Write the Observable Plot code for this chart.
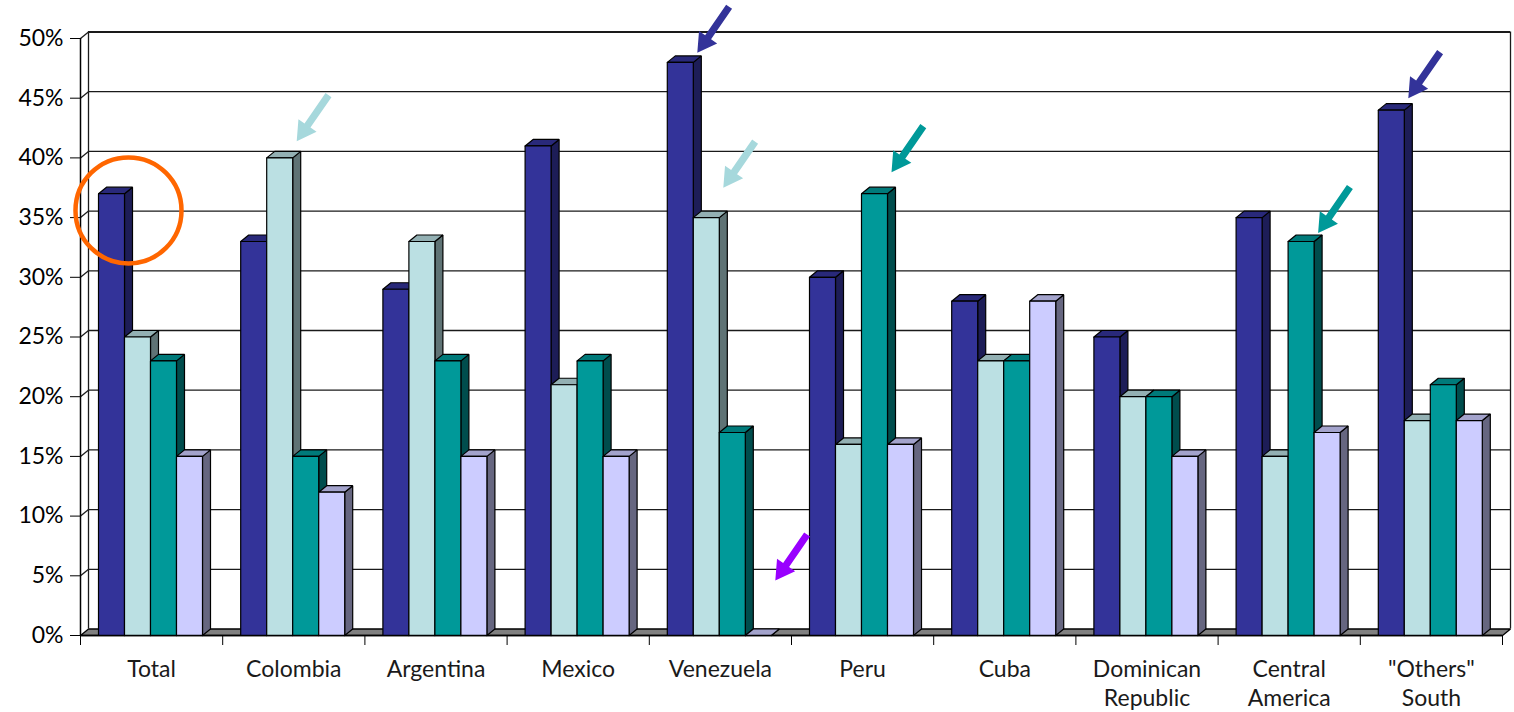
<!DOCTYPE html>
<html>
<head>
<meta charset="utf-8">
<script src="https://cdn.jsdelivr.net/npm/d3@7"></script>
<script src="https://cdn.jsdelivr.net/npm/@observablehq/plot@0.6"></script>
<style>
  html, body { margin: 0; padding: 0; background: #fff; }
  #chart svg { display: block; }
</style>
</head>
<body>
<div id="chart"></div>
<script>
// Categories along the x axis (line breaks split long labels)
const categories = [
  "Total", "Colombia", "Argentina", "Mexico", "Venezuela", "Peru", "Cuba",
  "Dominican\nRepublic", "Central\nAmerica", "\"Others\"\nSouth"
];

// Shares (%) for the four series, one value per category
const series1 = [37, 33, 29, 41, 48, 30, 28, 25, 35, 44];
const series2 = [25, 40, 33, 21, 35, 16, 23, 20, 15, 18];
const series3 = [23, 15, 23, 23, 17, 37, 23, 20, 33, 21];
const series4 = [15, 12, 15, 15, 0, 16, 28, 15, 17, 18];

// Y axis ticks (%)
const yTicks = [0, 5, 10, 15, 20, 25, 30, 35, 40, 45, 50];

// Call-out arrows: which bar they point at, and the height (%) of the arrow tip
const arrowNotes = [
  {category: 1, series: 1, tip: 41.4},
  {category: 4, series: 0, tip: 48.8},
  {category: 4, series: 1, tip: 37.5},
  {category: 4, series: 3, tip: 4.6},
  {category: 5, series: 2, tip: 38.8},
  {category: 8, series: 2, tip: 33.7},
  {category: 9, series: 0, tip: 45.0}
];
// Circled bar and the height (%) of the circle's centre
const circleNote = {category: 0, series: 0, center: 35.6};

// ---- styling ----
const allSeries = [series1, series2, series3, series4];
const faceColors = ["#333399", "#BBE0E3", "#009999", "#CCCCFF"];
const sideColors = ["#1D1D57", "#5F7375", "#004D4D", "#666680"];
const topColors  = ["#29297A", "#93B0B3", "#007A7A", "#A3A3CC"];
const arrowColors = ["#333399", "#A6D8DC", "#009999", "#9900FF"];

const W = 1514, H = 712;
const ML = 80, MR = 12, MT = 38, MB = 77;
const pxX = (W - ML - MR) / categories.length;   // pixels per category band
const pxY = (H - MT - MB) / 50;                   // pixels per percentage point

// 3-D depth offset and bar geometry, in data units
const DX = 8 / pxX, DY = 6.5 / pxY;
const GAP = 18 / pxX, BW = 26 / pxX;
const N = categories.length;

const barX1 = (c, s) => c + GAP + s * BW;
const barX2 = (c, s) => barX1(c, s) + BW;

// Build every bar as three closed polygons (side, top, front), in draw order
const polys = [];
function addPoly(id, fill, pts) {
  for (const [x, y] of pts) polys.push({id, fill, x, y});
}
categories.forEach((cat, c) => {
  allSeries.forEach((vals, s) => {
    const v = vals[c];
    const x1 = barX1(c, s), x2 = barX2(c, s);
    const key = `${c}-${s}`;
    addPoly(key + "side", sideColors[s],
      [[x2, 0], [x2 + DX, DY], [x2 + DX, v + DY], [x2, v], [x2, 0]]);
    addPoly(key + "top", topColors[s],
      [[x1, v], [x2, v], [x2 + DX, v + DY], [x1 + DX, v + DY], [x1, v]]);
    addPoly(key + "front", faceColors[s],
      [[x1, 0], [x2, 0], [x2, v], [x1, v], [x1, 0]]);
  });
});

// Floor of the 3-D frame
const floor = [];
for (const [x, y] of [[0, 0], [N, 0], [N + DX, DY], [DX, DY], [0, 0]])
  floor.push({id: "floor", fill: "#808080", x, y});

// Block arrow symbol pointing straight down, tip at the origin
const arrowSymbol = {
  draw(ctx) {
    const L = 56, hl = 19, hw = 11, sw = 3.6;
    ctx.moveTo(0, 0);
    ctx.lineTo(-hw, -hl);
    ctx.lineTo(-sw, -hl);
    ctx.lineTo(-sw, -L);
    ctx.lineTo(sw, -L);
    ctx.lineTo(sw, -hl);
    ctx.lineTo(hw, -hl);
    ctx.closePath();
  }
};

const gridStroke = "#1a1a1a";

const chart = Plot.plot({
  width: W,
  height: H,
  marginLeft: ML,
  marginRight: MR,
  marginTop: MT,
  marginBottom: MB,
  style: {fontFamily: "Lato, sans-serif", fontSize: "23px", background: "#fff", color: "#000"},
  color: {type: "identity"},
  x: {domain: [0, N], ticks: d3.range(0, N + 1), tickFormat: () => "", tickSize: 10, label: null},
  y: {domain: [0, 50], ticks: yTicks, tickFormat: d => d + "%", tickSize: 10, tickPadding: 7, label: null},
  marks: [
    // back wall gridlines
    Plot.ruleY(yTicks.slice(1), {y: d => d + DY, x1: DX, x2: N + DX, stroke: gridStroke, strokeWidth: d => d === 50 ? 2.2 : 1.3}),
    // side wall gridlines (diagonals)
    Plot.link(yTicks.slice(1), {x1: 0, y1: d => d, x2: DX, y2: d => d + DY, stroke: gridStroke, strokeWidth: 1.3}),
    // back wall edges
    Plot.ruleX([DX, N + DX], {y1: DY, y2: 50 + DY, stroke: gridStroke, strokeWidth: 1.3}),
    // front value axis line
    Plot.ruleX([0], {y1: 0, y2: 50, stroke: "#000", strokeWidth: 1.5}),
    // floor
    Plot.line(floor, {x: "x", y: "y", z: "id", fill: "fill", stroke: "#000", strokeWidth: 1.3, strokeLinejoin: "miter"}),
    // bars
    Plot.line(polys, {x: "x", y: "y", z: "id", fill: "fill", stroke: "#000", strokeWidth: 1.2, strokeLinejoin: "miter"}),
    // front floor edge
    Plot.ruleY([0], {x1: 0, x2: N, stroke: "#000", strokeWidth: 1.6}),
    // category labels
    Plot.text(categories, {
      x: (d, i) => i + 0.5, y: 0, text: d => d,
      lineAnchor: "top", dy: 21, lineHeight: 1.25, fontSize: 23, fill: "#1a1a1a"
    }),
    // call-out arrows
    Plot.dot(arrowNotes, {
      x: d => barX2(d.category, d.series) + DX / 2,
      y: d => d.tip,
      symbol: arrowSymbol,
      fill: d => arrowColors[d.series],
      stroke: null,
      rotate: 34.6
    }),
    // circled bar
    Plot.dot([circleNote], {
      x: d => barX2(d.category, d.series) + DX / 2,
      y: d => d.center,
      r: 53,
      fill: "none",
      stroke: "#FF6600",
      strokeWidth: 4.5
    })
  ]
});

document.getElementById("chart").appendChild(chart);
</script>
</body>
</html>
